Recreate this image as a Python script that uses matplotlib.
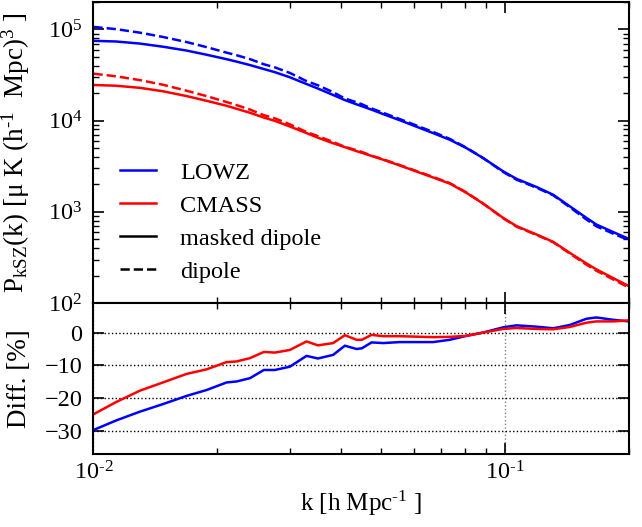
import matplotlib
matplotlib.use('Agg')
import matplotlib.pyplot as plt
import numpy as np
from matplotlib.ticker import FixedLocator, FuncFormatter

plt.rcParams['font.family'] = ['Liberation Serif', 'DejaVu Serif']
plt.rcParams['mathtext.fontset'] = 'custom'
plt.rcParams['mathtext.rm'] = 'Liberation Serif'
plt.rcParams['mathtext.it'] = 'Liberation Serif:italic'
plt.rcParams['mathtext.bf'] = 'Liberation Serif:bold'
plt.rcParams['font.size'] = 17.5

#-------------------------------------------------------------------------------
# wavenumbers [h/Mpc]
k = [0.0100, 0.01134, 0.01297, 0.01475, 0.01684, 0.01884, 0.02107, 0.02228,
     0.02401, 0.02596, 0.02761, 0.03002, 0.03297, 0.03513, 0.03826, 0.04085,
     0.04361, 0.04493, 0.04744, 0.05062, 0.05557, 0.06695, 0.07352, 0.08069,
     0.08857, 0.0991, 0.1068, 0.1194, 0.1311, 0.1439, 0.1579, 0.1670,
     0.1833, 0.2000]

# masked dipole P_kSZ(k)
lowz_masked = [75000, 73800, 70000, 64700, 58700, 52800, 47200, 44400,
               40700, 36800, 34000, 29900, 25200, 22500, 19100, 16800,
               15100, 14400, 13200, 11800, 10100, 7300, 6170, 5000,
               3890, 2780, 2300, 1875, 1540, 1150, 860, 726,
               601, 507]
cmass_masked = [24600, 24150, 22900, 21000, 18600, 16500, 14550, 13500,
                12200, 10800, 9950, 8630, 7300, 6500, 5650, 5120,
                4630, 4440, 4100, 3730, 3220, 2380, 2040, 1615,
                1233, 859, 697, 565, 469, 355, 272, 234,
                188, 154]

# (masked - dipole) / dipole in percent
lowz_diff = [-29.7, -26.8, -24.1, -21.8, -19.3, -17.5, -15.2, -14.9,
             -13.9, -11.4, -11.4, -10.4, -7.1, -7.9, -6.8, -4.0,
             -5.0, -4.8, -3.0, -3.2, -2.9, -2.9, -2.2, -1.0,
             0.0, 1.6, 2.2, 1.8, 1.3, 2.3, 4.2, 4.6,
             3.9, 3.4]
cmass_diff = [-24.9, -21.2, -17.7, -15.2, -12.6, -11.2, -9.0, -8.8,
              -7.8, -5.9, -6.1, -5.3, -2.7, -3.9, -3.2, -0.8,
              -2.2, -2.2, -0.7, -1.1, -1.1, -1.4, -1.3, -1.0,
              0.0, 1.1, 1.4, 1.1, 1.0, 1.7, 3.0, 3.4,
              3.4, 3.7]

#-------------------------------------------------------------------------------
k = np.array(k)
lowz_dip = np.array(lowz_masked) / (1 + np.array(lowz_diff) / 100.)
cmass_dip = np.array(cmass_masked) / (1 + np.array(cmass_diff) / 100.)

def pow10(x, pos):
	e = int(round(np.log10(x)))
	return r'10$^{\text{%d}}$' % e

fig = plt.figure(figsize=(6.42, 5.27), dpi=100)
ax1 = fig.add_axes([0.1456, 0.425, 0.8335, 0.5712])
ax2 = fig.add_axes([0.1456, 0.1385, 0.8335, 0.2865], sharex=ax1)

lw = 1.8
ax1.loglog(k, lowz_masked, '-', color='b', lw=lw, label='LOWZ')
ax1.loglog(k, cmass_masked, '-', color='r', lw=lw, label='CMASS')
ax1.loglog(k, lowz_dip, '--', color='b', lw=lw)
ax1.loglog(k, cmass_dip, '--', color='r', lw=lw)
ax1.plot([], [], 'k-', lw=lw, label='masked dipole')
ax1.plot([], [], 'k--', lw=lw, label='dipole')

ax1.set_xlim(0.01, 0.2)
ax1.set_ylim(1e2, 2e5)
ax1.set_ylabel(r'P$_{\rm kSZ}$(k) [$\mathrm{\mu}$ K (h$^{\text{-1}}$  Mpc)$^3$ ]', fontsize=19.5)
ax1.yaxis.set_label_coords(-0.115, 0.5)
plt.setp(ax1.get_xticklabels(), visible=False)
ax1.legend(loc='lower left', bbox_to_anchor=(0.008, -0.005), frameon=False,
           handlelength=1.5, handletextpad=1.0, labelspacing=0.45)

ax2.semilogx(k, lowz_diff, '-', color='b', lw=lw)
ax2.semilogx(k, cmass_diff, '-', color='r', lw=lw)
ax2.set_ylim(-37, 9)
ax2.yaxis.set_major_locator(FixedLocator([-30, -20, -10, 0]))
ax2.xaxis.set_major_formatter(FuncFormatter(pow10))
ax2.set_ylabel('Diff. [%]', fontsize=19.5)
ax2.yaxis.set_label_coords(-0.115, 0.5)
ax2.set_xlabel(r'k [h Mpc$^{\text{-1}}$ ]', fontsize=18, labelpad=3)
ax2.yaxis.grid(True, linestyle=':', color='k', lw=1)
ax2.xaxis.grid(True, which='major', linestyle=':', color='0.5', lw=1)

for ax in (ax1, ax2):
	ax.tick_params(which='both', direction='in', top=True, right=True)
	ax.tick_params(which='major', length=8, width=1.2, pad=8)
	ax.tick_params(which='minor', length=4, width=1)
	for s in ax.spines.values():
		s.set_linewidth(1.5)
ax2.tick_params(axis='y', which='minor', left=False, right=False)
ax2.tick_params(axis='x', which='major', pad=5)

fig.savefig('out.png', dpi=100)
